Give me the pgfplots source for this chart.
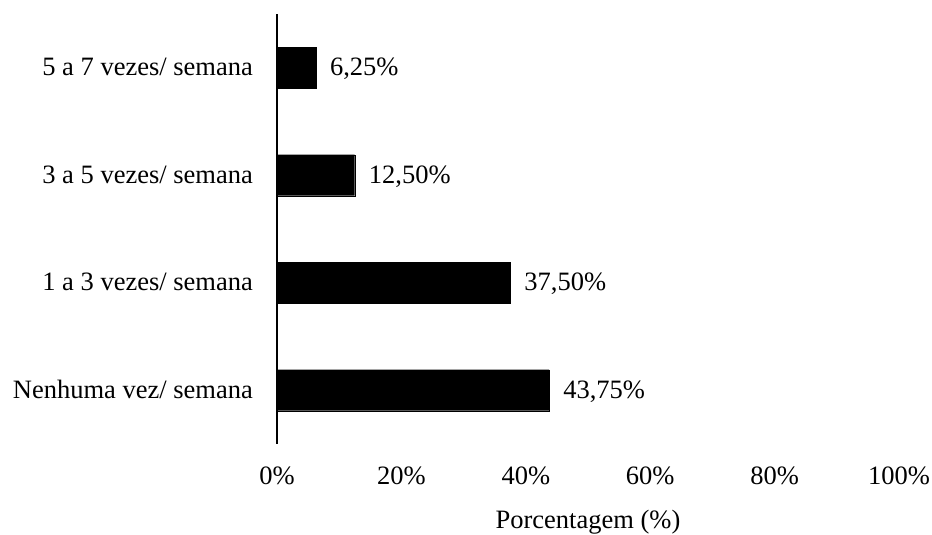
\documentclass[border=0pt]{standalone}
\usepackage{fontspec}
\setmainfont{Liberation Serif}
\usepackage{pgfplots}
\pgfplotsset{compat=1.18}
\begin{document}
\begin{tikzpicture}[font=\fontsize{26.5}{32}\selectfont]
\useasboundingbox (0,0) rectangle (932pt,535pt);
\begin{axis}[
  at={(277pt,91pt)}, anchor=south west,
  scale only axis, width=622pt, height=430pt,
  xbar, bar width=41pt,
  xmin=0, xmax=100, ymin=-0.5, ymax=3.5,
  xtick={0,20,40,60,80,100},
  xticklabels={0\%,20\%,40\%,60\%,80\%,100\%},
  ytick={0,1,2,3},
  yticklabels={Nenhuma vez/ semana,1 a 3 vezes/ semana,3 a 5 vezes/ semana,5 a 7 vezes/ semana},
  axis y line*=left, axis x line*=bottom,
  x axis line style={draw=none},
  y axis line style={line width=1.2pt,-},
  major tick length=0pt,
  xticklabel style={anchor=base, inner sep=0pt, yshift=-41pt},
  yticklabel style={anchor=base east, inner sep=0pt, xshift=-24pt, yshift=-8pt},
  xlabel={Porcentagem (\%)},
  xlabel style={at={(axis description cs:0.5,0)}, anchor=base, inner sep=0pt, yshift=-85pt},
  nodes near coords={\pgfmathprintnumber[fixed,zerofill,precision=2,use comma]{\pgfplotspointmeta}\%},
  point meta=x,
  every node near coord/.append style={anchor=base west, inner sep=0pt, xshift=14pt, yshift=-8pt, black},
  /pgf/number format/assume math mode=true,
]
\addplot[fill=black, draw=black] coordinates {(43.75,0) (37.5,1) (12.5,2) (6.25,3)};
\end{axis}
\end{tikzpicture}
\end{document}
